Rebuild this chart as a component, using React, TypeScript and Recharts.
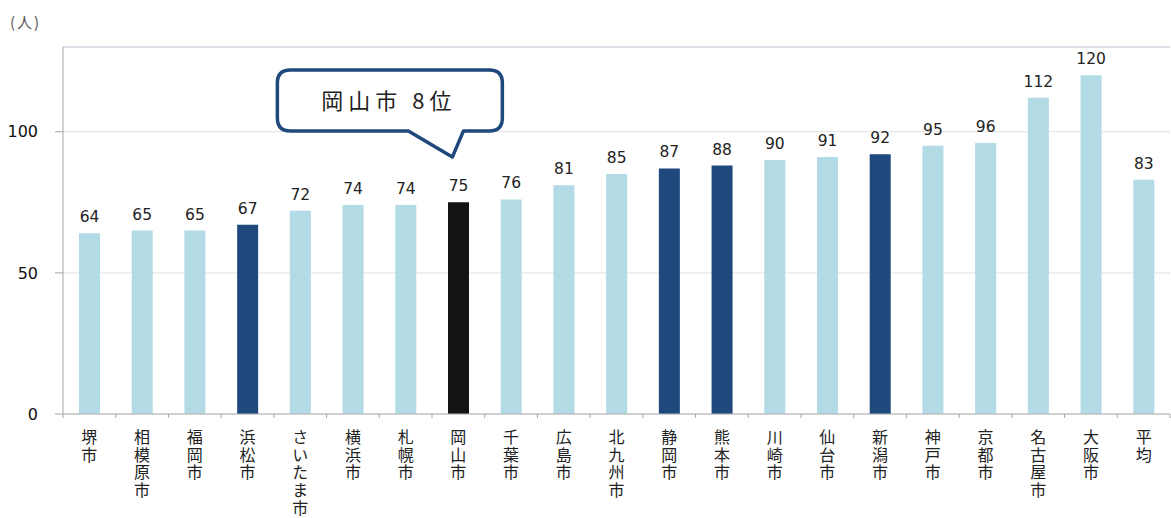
import React from 'react';
import {
  BarChart,
  Bar,
  XAxis,
  YAxis,
  CartesianGrid,
  Cell,
  LabelList,
  ReferenceLine,
  ReferenceDot,
} from 'recharts';

// ---- data ----
const cities: string[] = [
  '堺市', '相模原市', '福岡市', '浜松市', 'さいたま市', '横浜市', '札幌市',
  '岡山市', '千葉市', '広島市', '北九州市', '静岡市', '熊本市', '川崎市',
  '仙台市', '新潟市', '神戸市', '京都市', '名古屋市', '大阪市', '平均',
];
const values: number[] = [
  64, 65, 65, 67, 72, 74, 74, 75, 76, 81, 85, 87, 88, 90, 91, 92, 95, 96, 112, 120, 83,
];
const darkCities: string[] = ['浜松市', '静岡市', '熊本市', '新潟市'];
const focusCity = '岡山市';
const calloutText = '岡山市 8位';
const calloutValue = 91;
const yTicks: number[] = [0, 50, 100];
const yMax = 130;
const unitLabel = '(人)';

const data = cities.map((name, i) => ({ name, value: values[i] }));

const LIGHT = '#b3dbe5';
const DARK = '#1f497d';
const BLACK = '#141414';

const colorFor = (name: string) =>
  name === focusCity ? BLACK : darkCities.includes(name) ? DARK : LIGHT;

const VerticalTick = (props: any) => {
  const { x, y, payload, index } = props;
  const half = payload.offset && payload.offset > 0 ? payload.offset : 26.35;
  return (
    <g>
      <line x1={x - half} y1={y} x2={x - half} y2={y + 4} stroke="#a6a6a6" strokeWidth={1} />
      {index === cities.length - 1 && (
        <line x1={x + half} y1={y} x2={x + half} y2={y + 4} stroke="#a6a6a6" strokeWidth={1} />
      )}
      <text
        x={x}
        y={y + 15}
        fontSize={16}
        fill="#222"
        fontFamily="'Noto Sans CJK JP', sans-serif"
        style={{ writingMode: 'vertical-rl', letterSpacing: 1.7 } as any}
      >
        {String(payload.value)}
      </text>
    </g>
  );
};

const Callout = (props: any) => {
  const { cx, cy } = props;
  if (cx == null || cy == null) return null;
  const tx = cx - 6;
  const ty = cy;
  const L = tx - 175;
  const R = tx + 50;
  const T = ty - 87;
  const B = ty - 26;
  const r = 13;
  const d = [
    `M ${L + r} ${T}`,
    `H ${R - r}`,
    `Q ${R} ${T} ${R} ${T + r}`,
    `V ${B - r}`,
    `Q ${R} ${B} ${R - r} ${B}`,
    `H ${tx + 11}`,
    `L ${tx} ${ty}`,
    `L ${tx - 44} ${B}`,
    `H ${L + r}`,
    `Q ${L} ${B} ${L} ${B - r}`,
    `V ${T + r}`,
    `Q ${L} ${T} ${L + r} ${T}`,
    'Z',
  ].join(' ');
  return (
    <g>
      <path d={d} fill="#fff" stroke={DARK} strokeWidth={3.5} strokeLinejoin="round" />
      <text
        x={(L + R) / 2 - 1}
        y={(T + B) / 2 + 8}
        textAnchor="middle"
        fontSize={22}
        letterSpacing={5}
        fill="#222"
        fontFamily="'Noto Sans CJK JP', sans-serif"
      >
        {calloutText}
      </text>
    </g>
  );
};

export default function App() {
  return (
    <div style={{ position: 'absolute', left: 0, top: 0, width: 1171, height: 518, background: '#fff' }}>
      <div
        style={{
          position: 'absolute',
          left: 10,
          top: 11,
          fontSize: 15,
          letterSpacing: 2,
          color: '#555',
          fontFamily: "'Noto Sans CJK JP', sans-serif",
        }}
      >
        {unitLabel}
      </div>
      <BarChart
        width={1171}
        height={518}
        data={data}
        margin={{ top: 47, right: 1, bottom: 0, left: 0 }}
        barSize={21}
      >
        <CartesianGrid vertical={false} stroke="#e2e2e2" />
        <ReferenceLine y={yMax} stroke="#d6dce4" strokeWidth={1.5} />
        <XAxis
          dataKey="name"
          interval={0}
          tickLine={false}
          tickSize={0}
          tickMargin={0}
          axisLine={{ stroke: '#b0b0b0' }}
          tick={<VerticalTick />}
          height={104}
        />
        <YAxis
          domain={[0, yMax]}
          ticks={yTicks}
          width={63}
          tickSize={8}
          tickMargin={17}
          axisLine={{ stroke: '#a6a6a6' }}
          tickLine={{ stroke: '#a6a6a6' }}
          tick={{ fontSize: 16, fill: '#111', fontFamily: "'DejaVu Sans', sans-serif" }}
          allowDataOverflow
        />
        <Bar dataKey="value" isAnimationActive={false}>
          {data.map((d) => (
            <Cell key={d.name} fill={colorFor(d.name)} />
          ))}
          <LabelList
            dataKey="value"
            position="top"
            offset={11}
            style={{ fontSize: 15.5, fill: '#222', fontFamily: "'DejaVu Sans', sans-serif" }}
          />
        </Bar>
        <ReferenceDot x={focusCity} y={calloutValue} shape={<Callout />} ifOverflow="visible" />
      </BarChart>
    </div>
  );
}
